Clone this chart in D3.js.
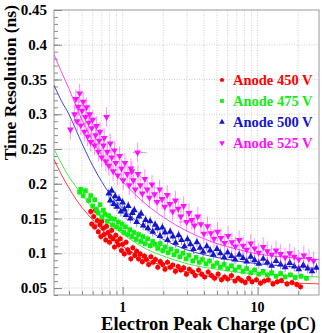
<!DOCTYPE html>
<html lang='en'>
<head>
	<meta charset='UTF-8'/>
	<title>Time resolution vs electron peak charge</title>
	<script src='https://cdnjs.cloudflare.com/ajax/libs/d3/7.8.5/d3.min.js'></script>
	<style>
		body {margin: 0; background: #fff;}
		svg {display: block;}
		svg text {font-family: "Liberation Serif", "Times New Roman", "DejaVu Serif", serif; font-weight: bold;}
	</style>
</head>
<body>
	<div class='graph'></div>
	<script>
		// data: [charge pC, time resolution ns]
		const red450 = [[0.58,0.160],[0.59,0.142],[0.61,0.153],[0.62,0.138],[0.63,0.162],[0.65,0.147],[0.66,0.131],[0.68,0.141],[0.69,0.124],[0.70,0.146],[0.72,0.136],[0.73,0.127],[0.75,0.119],[0.76,0.139],[0.78,0.130],[0.80,0.116],[0.81,0.124],[0.83,0.133],[0.85,0.121],[0.87,0.109],[0.89,0.126],[0.91,0.117],[0.93,0.112],[0.96,0.121],[0.98,0.104],[1.0,0.113],[1.03,0.099],[1.06,0.116],[1.09,0.105],[1.12,0.101],[1.15,0.092],[1.19,0.108],[1.23,0.097],[1.27,0.103],[1.31,0.092],[1.35,0.099],[1.4,0.088],[1.45,0.096],[1.5,0.091],[1.56,0.084],[1.62,0.095],[1.68,0.087],[1.75,0.091],[1.82,0.080],[1.9,0.088],[1.98,0.084],[2.06,0.077],[2.15,0.087],[2.25,0.080],[2.35,0.083],[2.46,0.074],[2.58,0.081],[2.7,0.076],[2.83,0.079],[2.97,0.070],[3.12,0.077],[3.3,0.073],[3.45,0.068],[3.65,0.076],[3.85,0.070],[4.05,0.066],[4.3,0.073],[4.55,0.068],[4.8,0.064],[5.1,0.070],[5.4,0.062],[5.7,0.066],[6.0,0.063],[6.4,0.068],[6.8,0.060],[7.2,0.064],[7.6,0.061],[8.1,0.058],[8.6,0.064],[9.1,0.059],[9.8,0.062],[10.5,0.057],[11.2,0.060],[12,0.062],[13,0.056],[14,0.059],[15,0.061],[16.5,0.056],[18,0.058],[19.5,0.055],[20.8,0.052]];
		const green475 = [[0.48,0.188],[0.49,0.192],[0.51,0.183],[0.53,0.190],[0.56,0.176],[0.58,0.183],[0.60,0.168],[0.62,0.177],[0.64,0.163],[0.66,0.158],[0.68,0.170],[0.70,0.152],[0.72,0.162],[0.74,0.156],[0.77,0.146],[0.79,0.154],[0.82,0.150],[0.84,0.141],[0.87,0.149],[0.90,0.138],[0.93,0.145],[0.96,0.135],[0.99,0.142],[1.02,0.130],[1.05,0.138],[1.09,0.127],[1.13,0.134],[1.17,0.124],[1.21,0.130],[1.26,0.120],[1.31,0.127],[1.36,0.117],[1.41,0.124],[1.47,0.114],[1.53,0.121],[1.6,0.111],[1.67,0.117],[1.74,0.113],[1.82,0.107],[1.9,0.114],[1.98,0.104],[2.07,0.109],[2.17,0.101],[2.28,0.106],[2.4,0.098],[2.52,0.103],[2.65,0.095],[2.8,0.100],[2.95,0.092],[3.1,0.097],[3.3,0.089],[3.5,0.094],[3.7,0.087],[3.9,0.091],[4.15,0.085],[4.4,0.089],[4.7,0.082],[5.0,0.086],[5.3,0.080],[5.65,0.084],[6.0,0.078],[6.4,0.082],[6.8,0.076],[7.3,0.080],[7.8,0.074],[8.3,0.078],[8.9,0.072],[9.5,0.076],[10.2,0.070],[11,0.074],[11.8,0.069],[12.7,0.072],[13.7,0.067],[14.8,0.071],[16,0.066],[17.5,0.069],[19,0.065],[21,0.067],[23,0.064]];
		const blue500 = [[0.79,0.186],[0.81,0.176],[0.83,0.190],[0.86,0.171],[0.88,0.182],[0.91,0.167],[0.94,0.178],[0.97,0.160],[1.0,0.173],[1.03,0.163],[1.06,0.155],[1.1,0.168],[1.14,0.150],[1.18,0.158],[1.22,0.162],[1.27,0.145],[1.32,0.153],[1.37,0.157],[1.42,0.140],[1.48,0.148],[1.54,0.136],[1.6,0.146],[1.67,0.131],[1.74,0.141],[1.81,0.136],[1.89,0.125],[1.97,0.137],[2.06,0.130],[2.15,0.119],[2.25,0.131],[2.36,0.124],[2.47,0.115],[2.6,0.126],[2.73,0.119],[2.87,0.110],[3.02,0.120],[3.18,0.113],[3.35,0.106],[3.55,0.116],[3.75,0.108],[3.95,0.102],[4.2,0.110],[4.45,0.104],[4.7,0.098],[5.0,0.106],[5.3,0.100],[5.65,0.094],[6.0,0.101],[6.4,0.096],[6.8,0.091],[7.3,0.098],[7.8,0.093],[8.3,0.088],[8.9,0.095],[9.5,0.090],[10.2,0.085],[11,0.092],[11.8,0.087],[12.7,0.082],[13.7,0.089],[14.8,0.084],[16,0.080],[17.3,0.086],[18.7,0.081],[20.2,0.077],[21.8,0.083],[23.5,0.078],[25.3,0.074],[27.3,0.079]];
		const magenta525 = [[0.41,0.278],[0.44,0.300],[0.45,0.322],[0.46,0.290],[0.47,0.311],[0.48,0.330],[0.49,0.284],[0.50,0.305],[0.51,0.318],[0.52,0.275],[0.53,0.296],[0.54,0.310],[0.55,0.268],[0.56,0.288],[0.57,0.300],[0.58,0.260],[0.59,0.280],[0.60,0.292],[0.62,0.255],[0.63,0.270],[0.64,0.283],[0.66,0.246],[0.67,0.262],[0.68,0.275],[0.70,0.238],[0.72,0.255],[0.73,0.266],[0.75,0.232],[0.76,0.296],[0.77,0.246],[0.79,0.226],[0.81,0.258],[0.83,0.238],[0.85,0.218],[0.87,0.248],[0.89,0.230],[0.92,0.212],[0.95,0.240],[0.98,0.222],[1.01,0.205],[1.04,0.230],[1.08,0.214],[1.12,0.198],[1.15,0.222],[1.17,0.218],[1.2,0.205],[1.24,0.192],[1.29,0.245],[1.3,0.214],[1.35,0.198],[1.4,0.186],[1.46,0.207],[1.52,0.192],[1.58,0.180],[1.65,0.199],[1.72,0.185],[1.8,0.174],[1.88,0.192],[1.96,0.178],[2.05,0.167],[2.14,0.184],[2.24,0.171],[2.35,0.160],[2.46,0.176],[2.58,0.164],[2.7,0.153],[2.83,0.168],[2.98,0.145],[3.1,0.158],[3.25,0.148],[3.4,0.140],[3.6,0.153],[3.8,0.142],[4.0,0.128],[4.25,0.139],[4.5,0.129],[4.75,0.121],[5.05,0.131],[5.35,0.122],[5.7,0.115],[6.05,0.125],[6.45,0.116],[6.85,0.110],[7.3,0.119],[7.8,0.111],[8.3,0.105],[8.9,0.114],[9.5,0.107],[10.2,0.101],[11,0.109],[11.8,0.103],[12.7,0.098],[13.7,0.104],[14.8,0.099],[16,0.094],[17.3,0.100],[18.7,0.095],[20.2,0.091],[22,0.097],[24,0.092],[26,0.089]];

		// vertical error (ns) per series, and the few wide horizontal error bars
		const errY = [0.005, 0.005, 0.007, 0.014];
		const wideX = [[1.19, 1.5, 0.245], [2.6, 3.4, 0.145]];

		// fit curves
		const fitQ = [0.31,0.35,0.4,0.45,0.5,0.6,0.7,0.8,1,1.5,2,3,5,7,10,15,20,28.5];
		const fitRed = [0.235,0.214,0.194,0.178,0.166,0.148,0.134,0.124,0.110,0.091,0.082,0.073,0.065,0.062,0.060,0.058,0.057,0.056];
		const fitGreen = [0.250,0.230,0.210,0.196,0.184,0.165,0.152,0.142,0.128,0.106,0.096,0.085,0.077,0.073,0.070,0.068,0.067,0.066];
		const fitBlue = [0.342,0.320,0.300,0.278,0.258,0.226,0.203,0.186,0.165,0.135,0.120,0.105,0.094,0.089,0.085,0.082,0.080,0.078];
		const fitMagenta = [0.386,0.362,0.337,0.312,0.292,0.262,0.241,0.225,0.203,0.170,0.152,0.132,0.114,0.106,0.099,0.095,0.093,0.091];

		const labels = ['Anode 450 V', 'Anode 475 V', 'Anode 500 V', 'Anode 525 V'];
		const colors = ['#ff0000', '#11ee11', '#1515cc', '#ff11ff'];
		const lineColors = ['#ff3b3b', '#44ee44', '#4444dd', '#ff44ff'];
		const yTicks = [0.05, 0.1, 0.15, 0.2, 0.25, 0.3, 0.35, 0.4, 0.45];

		const width = 322, height = 333;
		const margin = {top: 10, right: 3, bottom: 38, left: 54};

		const svg = d3.select('.graph').append('svg')
			.attr('width', width)
			.attr('height', height);

		const X_SCALE = d3.scaleLog()
			.domain([0.31, 28.5])
			.range([margin.left, width - margin.right]);
		const Y_SCALE = d3.scaleLinear()
			.domain([0.04, 0.45])
			.range([height - margin.bottom, margin.top]);

		const x0 = margin.left, x1 = width - margin.right;
		const y0 = height - margin.bottom, y1 = margin.top;

		svg.append('clipPath').attr('id', 'frame')
			.append('rect').attr('x', x0).attr('y', y1).attr('width', x1 - x0).attr('height', y0 - y1);

		// grid
		const xGrid = [0.4,0.5,0.6,0.7,0.8,0.9,1,2,3,4,5,6,7,8,9,10,20];
		svg.append('g').selectAll('line').data(xGrid).enter().append('line')
			.attr('x1', d => X_SCALE(d)).attr('x2', d => X_SCALE(d))
			.attr('y1', y1).attr('y2', y0)
			.style('stroke', '#bbb').style('stroke-width', 0.7).style('stroke-dasharray', '1,1.5');
		svg.append('g').selectAll('line').data(yTicks.slice(0, -1)).enter().append('line')
			.attr('x1', x0).attr('x2', x1)
			.attr('y1', d => Y_SCALE(d)).attr('y2', d => Y_SCALE(d))
			.style('stroke', '#bbb').style('stroke-width', 0.7).style('stroke-dasharray', '1,1.5');

		// frame
		svg.append('rect')
			.attr('x', x0).attr('y', y1).attr('width', x1 - x0).attr('height', y0 - y1)
			.style('fill', 'none').style('stroke', '#999').style('stroke-width', 1);

		// y axis, ROOT style ticks inside
		svg.append('g')
			.attr('transform', 'translate(' + x0 + ',0)')
			.call(d3.axisRight(Y_SCALE).tickValues(d3.range(0.04, 0.451, 0.01)).tickSize(4).tickFormat(''))
			.call(g => g.select('.domain').remove())
			.call(g => g.selectAll('line').style('stroke', '#888'));
		svg.append('g')
			.attr('transform', 'translate(' + x0 + ',0)')
			.call(d3.axisRight(Y_SCALE).tickValues(yTicks).tickSize(8).tickFormat(''))
			.call(g => g.select('.domain').remove())
			.call(g => g.selectAll('line').style('stroke', '#888'));
		svg.append('g').selectAll('text').data(yTicks).enter().append('text')
			.attr('x', 47).attr('y', d => Y_SCALE(d) + 5)
			.attr('text-anchor', 'end')
			.style('font-size', '15px')
			.text(d => d);

		// x axis
		svg.append('g')
			.attr('transform', 'translate(0,' + y0 + ')')
			.call(d3.axisTop(X_SCALE).tickValues(xGrid.filter(d => d !== 1 && d !== 10)).tickSize(4).tickFormat(''))
			.call(g => g.select('.domain').remove())
			.call(g => g.selectAll('line').style('stroke', '#888'));
		svg.append('g')
			.attr('transform', 'translate(0,' + y0 + ')')
			.call(d3.axisTop(X_SCALE).tickValues([1, 10]).tickSize(8).tickFormat(''))
			.call(g => g.select('.domain').remove())
			.call(g => g.selectAll('line').style('stroke', '#888'));
		svg.append('g').selectAll('text').data([1, 10]).enter().append('text')
			.attr('x', d => X_SCALE(d)).attr('y', 312)
			.attr('text-anchor', 'middle')
			.style('font-size', '14px')
			.text(d => d);

		// titles
		svg.append('text')
			.attr('x', x1 - 3).attr('y', 330)
			.attr('text-anchor', 'end')
			.style('font-size', '18.5px')
			.text('Electron Peak Charge (pC)');
		svg.append('text')
			.attr('transform', 'rotate(-90)')
			.attr('x', -5).attr('y', 16)
			.attr('text-anchor', 'end')
			.style('font-size', '17.5px')
			.text('Time Resolution (ns)');

		const plot = svg.append('g').attr('clip-path', 'url(#frame)');

		// fit curves
		const fits = [fitRed, fitGreen, fitBlue, fitMagenta];
		const line = d3.line()
			.x(d => X_SCALE(d[0]))
			.y(d => Y_SCALE(d[1]))
			.curve(d3.curveMonotoneX);
		fits.forEach((f, i) => {
			plot.append('path')
				.datum(fitQ.map((q, j) => [q, f[j]]))
				.attr('d', line)
				.style('fill', 'none')
				.style('stroke', lineColors[i])
				.style('stroke-width', 1);
		});

		// points with error bars
		const series = [red450, green475, blue500, magenta525];
		const shapes = [d3.symbolCircle, d3.symbolSquare, d3.symbolTriangle, d3.symbolTriangle];
		const sizes = [20, 22, 20, 20];
		series.forEach((s, i) => {
			const g = plot.append('g');
			g.selectAll('line.ey').data(s).enter().append('line')
				.attr('x1', d => X_SCALE(d[0])).attr('x2', d => X_SCALE(d[0]))
				.attr('y1', d => Y_SCALE(d[1] - errY[i])).attr('y2', d => Y_SCALE(d[1] + errY[i]))
				.style('stroke', colors[i]).style('stroke-opacity', 0.45).style('stroke-width', 1);
			g.selectAll('path').data(s).enter().append('path')
				.attr('d', d3.symbol().type(shapes[i]).size(sizes[i]))
				.attr('transform', d => 'translate(' + X_SCALE(d[0]) + ',' + Y_SCALE(d[1]) + ')' + (i === 3 ? ' rotate(180)' : ''))
				.style('fill', colors[i]);
		});
		plot.append('g').selectAll('line').data(wideX).enter().append('line')
			.attr('x1', d => X_SCALE(d[0])).attr('x2', d => X_SCALE(d[1]))
			.attr('y1', d => Y_SCALE(d[2])).attr('y2', d => Y_SCALE(d[2]))
			.style('stroke', colors[3]).style('stroke-opacity', 0.5).style('stroke-width', 1);

		// legend
		const legend = svg.append('g');
		labels.forEach((t, i) => {
			const ly = 80 + i * 21;
			legend.append('path')
				.attr('d', d3.symbol().type(shapes[i]).size(14))
				.attr('transform', 'translate(222,' + ly + ')' + (i === 3 ? ' rotate(180)' : ''))
				.style('fill', colors[i]);
			legend.append('text')
				.attr('x', 233).attr('y', ly + 5)
				.style('font-size', '14.5px')
				.style('fill', colors[i])
				.text(t);
		});
	</script>
</body>
</html>
